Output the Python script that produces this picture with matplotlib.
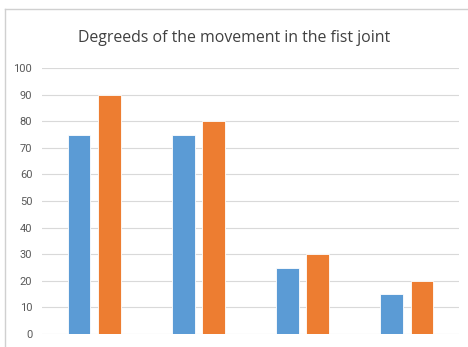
import matplotlib.pyplot as plt
import numpy as np
from matplotlib.lines import Line2D

# Movement degrees for each test position, two series
categories = ['1', '2', '3', '4']
series_a = [75, 75, 25, 15]
series_b = [90, 80, 30, 20]
y_ticks = list(range(0, 101, 10))

fig = plt.figure(figsize=(4.68, 3.47), dpi=100)
ax = fig.add_axes([42 / 468, 13 / 347, 417 / 468, 266 / 347])

x = np.arange(len(categories))
width = 0.22
ax.bar(x - 0.145, series_a, width, color='#5B9BD5', edgecolor='white', linewidth=0.6, zorder=3)
ax.bar(x + 0.145, series_b, width, color='#ED7D31', edgecolor='white', linewidth=0.6, zorder=3)

ax.set_xlim(-0.5, len(categories) - 0.5)
ax.set_ylim(0, 100)
ax.set_yticks(y_ticks)
ax.set_xticks([])
ax.yaxis.grid(True, color='#D9D9D9', linewidth=0.8, zorder=0)
for s in ax.spines.values():
    s.set_visible(False)
ax.tick_params(axis='y', length=0, pad=7, labelsize=8, labelcolor='#595959')
for lbl in ax.get_yticklabels():
    lbl.set_family('Roboto')

fig.text(0.5, 1 - 38 / 347, 'Degreeds of the movement in the fist joint',
         ha='center', va='center', fontsize=11.4, color='#404040', family='Open Sans')

# chart frame: top and left edges
fig.add_artist(Line2D([5 / 468, 467 / 468], [1 - 9 / 347, 1 - 9 / 347], color='#D0D0D0', linewidth=1))
fig.add_artist(Line2D([5 / 468, 5 / 468], [0, 1 - 9 / 347], color='#D0D0D0', linewidth=1))

fig.savefig('out.png', dpi=100)
